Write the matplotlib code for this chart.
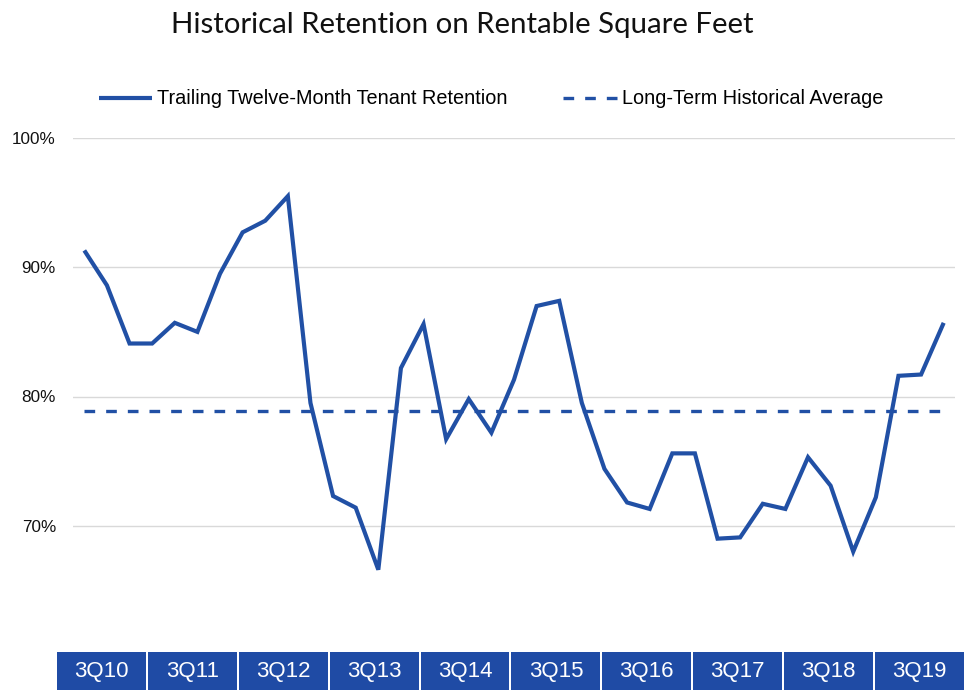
import matplotlib
matplotlib.use("Agg")
import matplotlib.pyplot as plt
from matplotlib.patches import Rectangle

# ---- data ----
retention = [91.3, 88.6, 84.1, 84.1, 85.7, 85.0, 89.5, 92.7, 93.6, 95.5,
             79.5, 72.3, 71.4, 66.6, 82.2, 85.6, 76.7, 79.8, 77.2, 81.3,
             87.0, 87.4, 79.5, 74.4, 71.8, 71.3, 75.6, 75.6, 69.0, 69.1,
             71.7, 71.3, 75.3, 73.1, 68.0, 72.2, 81.6, 81.7, 85.7]
long_term_avg = 78.9
year_labels = ["3Q10", "3Q11", "3Q12", "3Q13", "3Q14",
               "3Q15", "3Q16", "3Q17", "3Q18", "3Q19"]
y_ticks = [70, 80, 90, 100]
y_tick_labels = ["70%", "80%", "90%", "100%"]
series_names = ["Trailing Twelve-Month Tenant Retention", "Long-Term Historical Average"]
title = "Historical Retention on Rentable Square Feet"

W, H = 970, 696
line_color = "#2150a5"
box_color = "#1f4ba5"

plt.rcParams['font.family'] = ['Liberation Sans', 'DejaVu Sans']

fig = plt.figure(figsize=(W / 100, H / 100), dpi=100)
ax = fig.add_axes([73 / W, 1 - 655 / H, (955 - 73) / W, (655 - 138) / H])

x = list(range(len(retention)))
ax.plot(x, retention, color=line_color, lw=3.0, solid_joinstyle='miter',
        solid_capstyle='butt', label=series_names[0], zorder=3)
ax.plot(x, [long_term_avg] * len(x), color=line_color, lw=2.4,
        linestyle=(0, (3.2, 3.3)), dash_capstyle='butt', label=series_names[1], zorder=2)

ax.set_xlim(-0.5, len(retention) - 0.5)
ax.set_ylim(60, 100)
ax.set_yticks(y_ticks)
ax.set_yticklabels(y_tick_labels, fontsize=12.3, color="#111111")
ax.set_xticks([])
ax.tick_params(axis='y', length=0, pad=17 / 100 * 72)
ax.grid(axis='y', color="#d9d9d9", lw=1.0)
ax.set_axisbelow(True)
for s in ax.spines.values():
    s.set_visible(False)

# legend
leg = fig.legend(loc='center', bbox_to_anchor=(491 / W, 1 - 99 / H),
                 ncol=2, frameon=False, fontsize=14.3,
                 handlelength=2.7, handletextpad=0.25, columnspacing=2.8,
                 borderaxespad=0)

# title
fig.text(462.5 / W, 1 - 25 / H, title, ha='center', va='center',
         fontsize=21.2, family=['Lato', 'DejaVu Sans'], color="#111111")

# category boxes
bax = fig.add_axes([0, 0, 1, 1])
bax.set_xlim(0, W)
bax.set_ylim(H, 0)
bax.axis('off')
x0, x1 = 56, 965
bw = (x1 - x0) / len(year_labels)
for i, lab in enumerate(year_labels):
    left = x0 + i * bw
    bax.add_patch(Rectangle((left + 1, 652), bw - 2, 38, facecolor=box_color,
                            edgecolor='none'))
    bax.text(left + bw / 2, 672, lab, ha='center', va='center',
             color='white', fontsize=16)

fig.savefig("out.png", dpi=100)
